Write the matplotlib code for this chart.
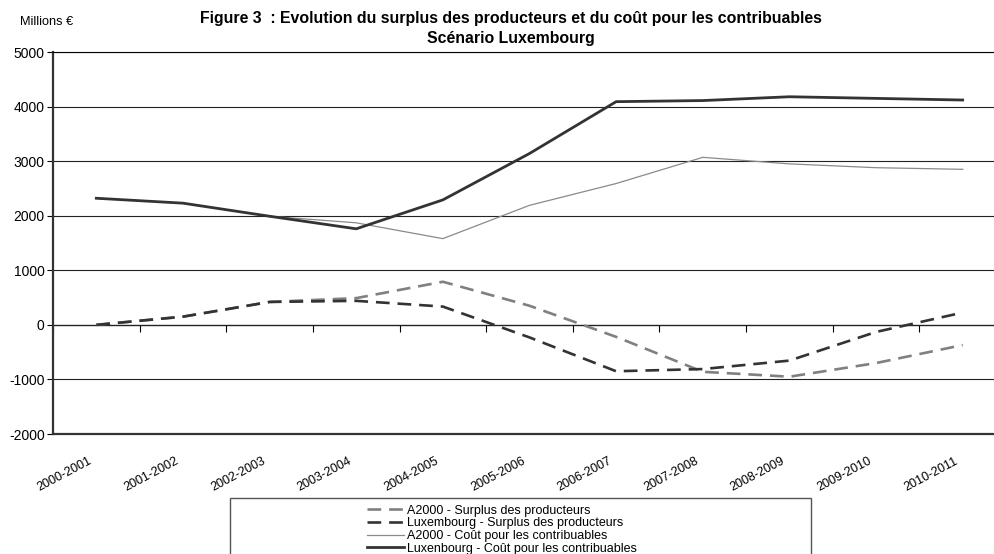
import matplotlib
matplotlib.use("Agg")
import matplotlib.pyplot as plt
import matplotlib.transforms as mtransforms
from matplotlib.patches import Rectangle

plt.rcParams['font.family'] = ['Liberation Sans', 'DejaVu Sans']
plt.rcParams['axes.unicode_minus'] = False

# Data (millions €)
periods = ['2000-2001', '2001-2002', '2002-2003', '2003-2004', '2004-2005', '2005-2006',
           '2006-2007', '2007-2008', '2008-2009', '2009-2010', '2010-2011']
a2000_surplus = [0, 150, 420, 490, 790, 350, -220, -860, -950, -700, -370]
lux_surplus = [0, 150, 420, 440, 335, -230, -850, -810, -655, -130, 225]
a2000_cout = [2320, 2230, 1990, 1870, 1580, 2190, 2590, 3070, 2950, 2880, 2850]
lux_cout = [2320, 2230, 1990, 1760, 2290, 3140, 4090, 4110, 4180, 4150, 4120]

labels = ['A2000 - Surplus des producteurs',
          'Luxembourg - Surplus des producteurs',
          'A2000 - Coût pour les contribuables',
          'Luxenbourg - Coût pour les contribuables']

W, H = 994, 554
fig = plt.figure(figsize=(W / 100, H / 100), dpi=100)
ax = fig.add_axes([53 / W, 1 - 434 / H, 953 / W, 382 / H])

x = range(len(periods))
l1, = ax.plot(x, a2000_surplus, color='#808080', lw=1.9, dashes=(5.2, 3.0))
l2, = ax.plot(x, lux_surplus, color='#333333', lw=1.9, dashes=(5.2, 3.0))
l3, = ax.plot(x, a2000_cout, color='#8a8a8a', lw=0.9)
l4, = ax.plot(x, lux_cout, color='#333333', lw=2.0)

ax.set_xlim(-0.5, len(periods) - 0.5)
ax.set_ylim(-2000, 5000)
ax.set_yticks(range(-2000, 5001, 1000))
ax.yaxis.grid(True, color='#222222', lw=0.8)
ax.set_axisbelow(True)
ax.tick_params(axis='y', direction='out', length=4, width=0.8, labelsize=10, pad=2)

ax.set_xticks(list(x))
ax.set_xticklabels(periods, rotation=28, ha='right', rotation_mode='anchor', fontsize=9)
ax.tick_params(axis='x', length=0, pad=15)
shift = mtransforms.ScaledTranslation(-8 / 100, 0, fig.dpi_scale_trans)
for lab in ax.get_xticklabels():
    lab.set_transform(lab.get_transform() + shift)

ax.spines['right'].set_visible(False)
ax.spines['left'].set_color('#333333')
ax.spines['left'].set_linewidth(1.6)
ax.spines['bottom'].set_color('#333333')
ax.spines['bottom'].set_linewidth(1.6)
ax.spines['top'].set_linewidth(0.8)

# category tick marks on the zero line
sec = ax.secondary_xaxis(2 / 7)
sec.set_xticks([i + 0.5 for i in range(-1, len(periods))])
sec.tick_params(axis='x', direction='out', length=5, width=0.8, labelbottom=False)
sec.spines['bottom'].set_linewidth(0.9)

fig.text(511 / W, 1 - 18 / H, 'Figure 3  : Evolution du surplus des producteurs et du coût pour les contribuables',
         ha='center', va='center', fontsize=11.4, fontweight='bold')
fig.text(511 / W, 1 - 38 / H, 'Scénario Luxembourg',
         ha='center', va='center', fontsize=11.4, fontweight='bold')
fig.text(20 / W, 1 - 22 / H, 'Millions €', ha='left', va='center', fontsize=9.2)

# legend frame (runs off the bottom of the figure)
fig.patches.append(Rectangle((230 / W, -0.05), 581 / W, 0.05 + 1 - 498 / H,
                             transform=fig.transFigure, fill=False,
                             edgecolor='#555555', lw=1.0))
fig.legend([l1, l2, l3, l4], labels, loc='upper left',
           bbox_to_anchor=(358 / W, 1 - 496 / H), frameon=False, fontsize=9,
           handlelength=3.0, handletextpad=0.2, labelspacing=0.05,
           borderpad=0.2)

fig.savefig('out.png', dpi=100)
